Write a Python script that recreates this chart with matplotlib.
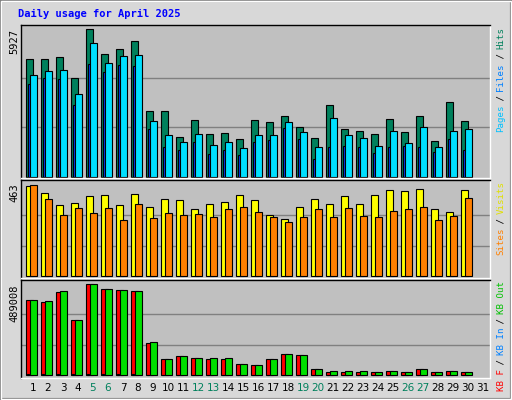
import matplotlib
matplotlib.use("Agg")
import matplotlib.pyplot as plt
from matplotlib.patches import Rectangle
import numpy as np

days = list(range(1, 32))
weekend_days = [5, 6, 12, 13, 19, 20, 26, 27]
hits = [4720,4720,4801,3956,5927,4921,5122,5444,2628,2628,1582,2266,1703,1743,1502,2266,2186,2427,1985,1542,2870,1904,1824,1703,2307,1784,2427,1421,2990,2226]
files = [4077,4238,4278,3312,5364,4559,4841,4881,2226,1663,1381,1703,1261,1381,1140,1663,1663,2186,1784,1180,2347,1663,1542,1220,1824,1341,1985,1180,1824,1904]
pages = [3715,3956,3916,2870,4519,4197,4479,4439,1904,1180,1059,1381,898,1059,858,1381,1462,1944,1502,697,1180,1220,1180,939,1180,1220,1180,979,1502,1059]
visits = [458,421,360,370,406,411,360,416,350,390,385,340,365,375,411,385,309,289,350,390,365,406,365,411,436,431,441,340,324,436]
sites = [463,390,309,345,319,345,284,365,294,319,309,314,299,340,350,324,299,274,299,340,299,345,304,299,330,340,350,284,304,395]
kb_f = [403000,392200,446000,295500,489008,462100,456700,451300,171900,86000,102100,91300,86000,86000,59100,53700,86000,112800,107500,32200,16100,16100,16100,16100,21500,16100,32200,16100,21500,16100]
kb_in = [5000,5000,5000,4000,6000,6000,6000,6000,2500,1000,1000,1000,1000,1000,800,800,1000,1200,1200,400,300,300,300,300,300,300,400,300,300,300]
kb_out = [403000,397600,451300,295500,489008,462100,456700,451300,177300,86000,102100,91300,91300,91300,59100,53700,86000,112800,107500,32200,21500,21500,21500,16100,21500,16100,32200,16100,21500,16100]
max_hits, max_visits, max_kb = 5927, 463, 489008

fig = plt.figure(figsize=(5.12, 4.0), dpi=100, facecolor="#D8D8D8")
fig.add_artist(Rectangle((0, 0), 1, 1, transform=fig.transFigure, fill=False, ec="#808080", lw=3))
fig.add_artist(Rectangle((0.002, 0.002), 0.996, 0.996, transform=fig.transFigure, fill=False, ec="#FFFFFF", lw=1))

x = np.arange(1, 31)
L, W = 21/512, 469/512
ax1 = fig.add_axes([L, 1-178/400, W, 153/400])
ax2 = fig.add_axes([L, 1-278/400, W, 98/400])
ax3 = fig.add_axes([L, 1-378/400, W, 98/400])
for ax in (ax1, ax2, ax3):
    ax.set_facecolor("#C0C0C0")
    ax.set_xlim(0.2, 31.47)
    ax.set_xticks([]); ax.set_yticks([])
    for s in ax.spines.values():
        s.set_color("black"); s.set_linewidth(1)
    ax.spines["right"].set_color("white"); ax.spines["bottom"].set_color("white")

ec = dict(edgecolor="black", linewidth=0.8, align="edge")
ax1.set_ylim(-50, 6087)
for g in (max_hits/3, 2*max_hits/3):
    ax1.axhline(g, color="#808080", lw=1, zorder=0)
ax1.bar(x-0.47, hits, width=0.47, color="#00805C", **ec)
ax1.bar(x-0.36, pages, width=0.13, color="#0040FF", **ec)
ax1.bar(x-0.23, files, width=0.5, color="#00E0FF", **ec)

ax2.set_ylim(-10, 488)
for g in (max_visits/3, 2*max_visits/3):
    ax2.axhline(g, color="#808080", lw=1, zorder=0)
ax2.bar(x-0.47, visits, width=0.47, color="#FFFF00", **ec)
ax2.bar(x-0.2, sites, width=0.47, color="#FF8000", **ec)

ax3.set_ylim(-16000, 510500)
for g in (max_kb/3, 2*max_kb/3):
    ax3.axhline(g, color="#808080", lw=1, zorder=0)
ax3.bar(x-0.47, kb_f, width=0.47, color="#FF0000", **ec)
ax3.bar(x-0.38, kb_in, width=0.1, color="#0080FF", **ec)
ax3.bar(x-0.2, kb_out, width=0.47, color="#00E000", **ec)

mono = "DejaVu Sans Mono"
fig.text(18/512, 1-9/400, "Daily usage for April 2025", color="#0000FF", fontsize=7.5,
         fontweight="bold", family=mono, va="top", ha="left")
for y0, lab in ((29, "5927"), (183, "463"), (284, "489008")):
    fig.text(14/512, 1-y0/400, lab, rotation=90, fontsize=7.5, family=mono, va="top", ha="center")

for d in days:
    fig.text((33+15*(d-1))/512, 1-388/400, str(d), ha="center", va="center", fontsize=7.5,
             family="DejaVu Sans", color="#00805C" if d in weekend_days else "black")

def side(y_top, pieces, ch=5.2):
    y = y_top
    for txt, col in pieces:
        fig.text(501/512, 1-y/400, txt, rotation=90, color=col, fontsize=6.6, family=mono,
                 va="top", ha="center")
        y += ch*len(txt)

side(27, [("Hits", "#00805C"), (" / ", "#000000"), ("Files", "#0080FF"), (" / ", "#000000"), ("Pages", "#00C0FF")])
side(181, [("Visits", "#E0E000"), (" / ", "#000000"), ("Sites", "#FF8000")])
side(281, [("KB Out", "#00C000"), (" / ", "#000000"), ("KB In", "#0080FF"), (" / ", "#000000"), ("KB F", "#FF0000")])

fig.savefig("out.png", dpi=100, facecolor=fig.get_facecolor())
